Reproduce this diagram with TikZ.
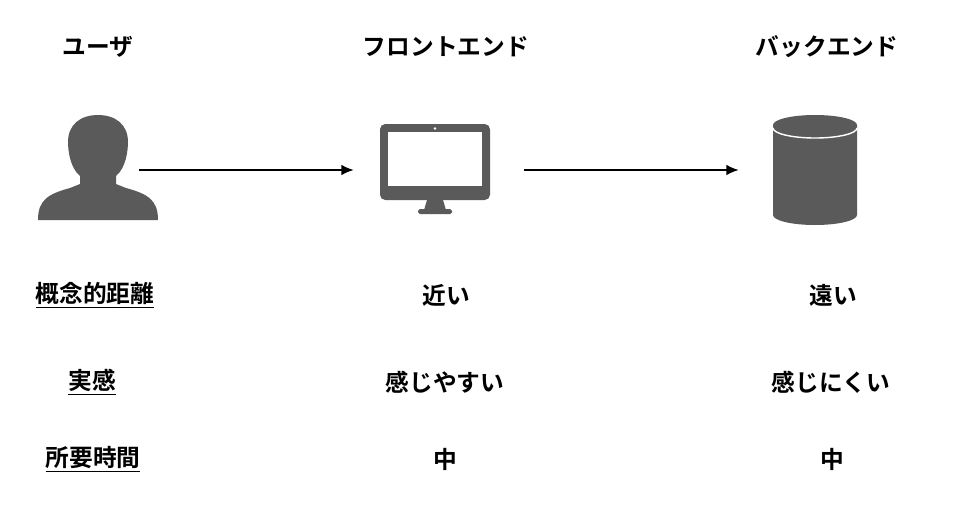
\documentclass[tikz,border=0pt]{standalone}
\usepackage{fontspec}
\newfontfamily\jp{Noto Sans CJK JP Bold}
\usetikzlibrary{arrows.meta}
\definecolor{icongray}{HTML}{5A5A5A}
\tikzset{
  lbl/.style={font=\jp\fontsize{13.5}{15}\selectfont, inner sep=1pt},
  conn/.style={-{Latex[length=7pt,width=6pt]}, line width=1pt}
}
\begin{document}
\begin{tikzpicture}[x=0.02cm,y=-0.02cm]
\useasboundingbox (0,0) rectangle (956,531);
% headers
\node[lbl] (hu) at (98,47) {ユーザ};
\node[lbl] (hf) at (446,47) {フロントエンド};
\node[lbl] (hb) at (827,47) {バックエンド};
% user icon
\fill[icongray] (38,220) .. controls (38,200) and (48,194) .. (70,188) -- (80,184) -- (80,176)
  .. controls (70,168) and (68,150) .. (68,142) .. controls (68,125) and (80,115) .. (98,115)
  .. controls (116,115) and (128,125) .. (128,142) .. controls (128,150) and (126,168) .. (116,176)
  -- (116,184) -- (126,188) .. controls (148,194) and (158,200) .. (158,220) -- cycle;
% monitor
\fill[icongray,rounded corners=3pt] (380,124) rectangle (490,200);
\fill[white] (388,132) rectangle (482,186);
\fill[white] (435,128.5) circle (1.3);
\fill[icongray] (427,200) -- (443,200) -- (446,210) -- (424,210) -- cycle;
\fill[icongray,rounded corners=1pt] (418,209) rectangle (452,214);
% database
\fill[icongray] (773,125) -- (773,215) arc[start angle=180,end angle=0,x radius=42,y radius=10] -- (857,125) -- cycle;
\fill[icongray] (815,125) ellipse[x radius=42,y radius=10];
\draw[white,line width=0.8pt] (773,128) arc[start angle=180,end angle=0,x radius=42,y radius=10];
% arrows
\node[inner sep=0pt] (ua) at (138,170) {};
\node[inner sep=0pt] (fa) at (355,170) {};
\node[inner sep=0pt] (fb) at (523,170) {};
\node[inner sep=0pt] (ba) at (740,170) {};
\draw[conn] (ua) -- (fa);
\draw[conn] (fb) -- (ba);
% rows
\node[lbl] (r1) at (95,295) {\underline{概念的距離}};
\node[lbl] (r1f) at (446,295) {近い};
\node[lbl] (r1b) at (833,295) {遠い};
\node[lbl] (r2) at (92,382) {\underline{実感}};
\node[lbl] (r2f) at (445,382) {感じやすい};
\node[lbl] (r2b) at (831,382) {感じにくい};
\node[lbl] (r3) at (93,459) {\underline{所要時間}};
\node[lbl] (r3f) at (445,459) {中};
\node[lbl] (r3b) at (832,459) {中};
\end{tikzpicture}
\end{document}
